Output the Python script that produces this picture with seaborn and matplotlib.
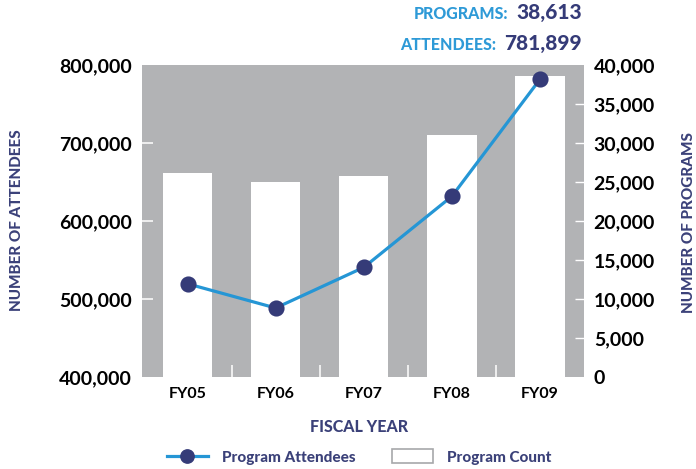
import matplotlib
matplotlib.use("Agg")
import matplotlib.pyplot as plt
import seaborn as sns
import pandas as pd
from matplotlib.lines import Line2D
from matplotlib.patches import Patch
from matplotlib.ticker import FixedLocator

# ---- data ----
years = ["FY05", "FY06", "FY07", "FY08", "FY09"]
program_count = [26200, 25000, 25800, 31000, 38613]
attendees = [520000, 489000, 541000, 632000, 781899]
left_ticks = [400000, 500000, 600000, 700000, 800000]
right_ticks = [0, 5000, 10000, 15000, 20000, 25000, 30000, 35000, 40000]

GRAY = "#b2b3b5"
BLUE = "#2596d5"
NAVY = "#353b78"
LABEL_NAVY = "#3b4179"
LIGHT_BLUE = "#2e9ad7"
FONT = ["Lato", "DejaVu Sans"]

plt.rcParams["font.family"] = FONT

df = pd.DataFrame({"year": years, "programs": program_count, "attendees": attendees})

fig = plt.figure(figsize=(6.96, 4.69), dpi=100)
ax = fig.add_axes([0.2036, 0.1951, 0.6355, 0.666])
ax.set_facecolor(GRAY)

sns.barplot(data=df, x="year", y="programs", color="white", saturation=1,
            width=0.56, errorbar=None, ax=ax, linewidth=0)

ax2 = ax.twinx()
sns.pointplot(data=df, x="year", y="attendees", color=BLUE, errorbar=None,
              markers="o", ax=ax2)
for ln in ax2.lines:
    ln.set_color(BLUE)
    ln.set_linewidth(2.3)
    ln.set_marker("o")
    ln.set_markersize(9.6)
    ln.set_markerfacecolor(NAVY)
    ln.set_markeredgecolor(NAVY)
    ln.set_zorder(5)

# right axis: bars
ax.yaxis.tick_right()
ax.yaxis.set_label_position("right")
ax.set_ylim(0, 40000)
ax.set_yticks(right_ticks)
ax.set_yticklabels([f"{v:,}" for v in right_ticks])
ax.tick_params(axis="y", direction="in", length=6.5, width=1, color="white",
               pad=7, labelsize=14, labelcolor="black")
for lab in ax.get_yticklabels():
    lab.set_fontweight("bold")
for t in (ax.yaxis.get_major_ticks()[0], ax.yaxis.get_major_ticks()[-1]):
    t.tick2line.set_visible(False)
    t.tick1line.set_visible(False)

# left axis: attendees
ax2.yaxis.tick_left()
ax2.yaxis.set_label_position("left")
ax2.set_ylim(400000, 800000)
ax2.set_yticks(left_ticks)
ax2.set_yticklabels([f"{v:,}" for v in left_ticks])
ax2.tick_params(axis="y", direction="in", length=7.7, width=1.1, color="white",
                pad=7, labelsize=14, labelcolor="black")
for lab in ax2.get_yticklabels():
    lab.set_fontweight("bold")
for t in (ax2.yaxis.get_major_ticks()[0], ax2.yaxis.get_major_ticks()[-1]):
    t.tick1line.set_visible(False)
    t.tick2line.set_visible(False)

# x axis
ax.set_xlim(-0.52, 4.5)
ax.set_xticks(range(len(years)))
ax.set_xticklabels(years, fontsize=11.5, fontweight="bold", color="black")
ax.tick_params(axis="x", length=0, pad=7)
ax.xaxis.set_minor_locator(FixedLocator([0.5, 1.5, 2.5, 3.5]))
ax.tick_params(axis="x", which="minor", direction="in", length=8.6, width=1.1,
               color="white")

for a in (ax, ax2):
    for s in a.spines.values():
        s.set_visible(False)

ax.set_xlabel("")
ax.set_ylabel("")
ax2.set_ylabel("")

HEAVY = 900
fig.text(0.516, 1 - 427 / 469, "FISCAL YEAR", ha="center", va="center",
         fontsize=11.5, fontweight=HEAVY, color=LABEL_NAVY)
fig.text(17 / 696, 1 - 220 / 469, "NUMBER OF ATTENDEES", rotation=90,
         ha="center", va="center", fontsize=11, fontweight=HEAVY, color=LABEL_NAVY)
fig.text(689 / 696, 1 - 223 / 469, "NUMBER OF PROGRAMS", rotation=90,
         ha="center", va="center", fontsize=11, fontweight=HEAVY, color=LABEL_NAVY)

# legend
handles = [
    Line2D([], [], color=BLUE, lw=2.3, marker="o", markersize=9.6,
           markerfacecolor=NAVY, markeredgecolor=NAVY),
    Patch(facecolor="white", edgecolor="#a7a8aa", linewidth=1.2),
]
fig.legend(handles, ["Program Attendees", "Program Count"], loc="center",
           bbox_to_anchor=(0.516, 1 - 457 / 469), ncol=2, frameon=False,
           handlelength=2.7, handleheight=1.0, columnspacing=2.4, handletextpad=0.9,
           prop={"family": FONT, "weight": HEAVY, "size": 11}, labelcolor=LABEL_NAVY)

# top annotations
num1 = fig.text(582 / 696, 1 - 19 / 469, "38,613", ha="right", va="baseline",
                fontsize=15, fontweight=HEAVY, color=NAVY)
num2 = fig.text(582 / 696, 1 - 50 / 469, "781,899", ha="right", va="baseline",
                fontsize=15, fontweight=HEAVY, color=NAVY)
fig.canvas.draw()
r = fig.canvas.get_renderer()
b1 = num1.get_window_extent(r)
b2 = num2.get_window_extent(r)
W = fig.bbox.width
fig.text((b1.x0 - 8) / W, 1 - 19 / 469, "PROGRAMS:", ha="right", va="baseline",
         fontsize=11.5, fontweight=HEAVY, color=LIGHT_BLUE)
fig.text((b2.x0 - 8) / W, 1 - 50 / 469, "ATTENDEES:", ha="right", va="baseline",
         fontsize=11.5, fontweight=HEAVY, color=LIGHT_BLUE)

fig.savefig("out.png", dpi=100)
